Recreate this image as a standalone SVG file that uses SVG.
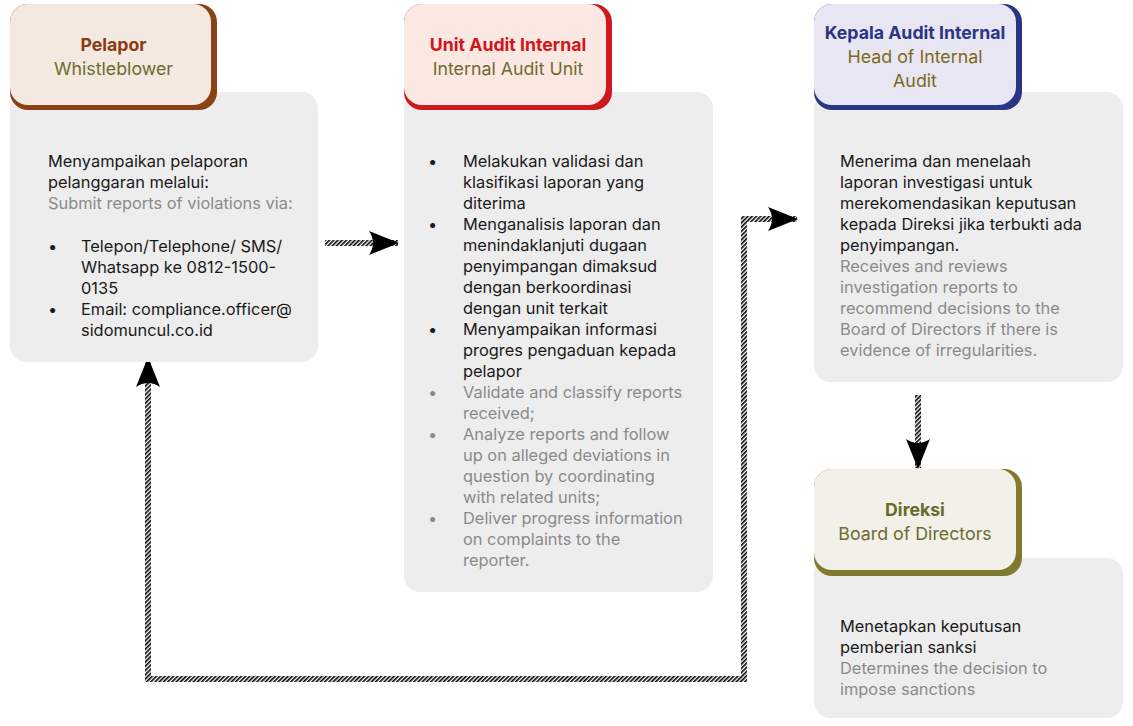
<svg xmlns="http://www.w3.org/2000/svg" width="1133" height="726" viewBox="0 0 1133 726">
<style>
text{font-family:Inter,"Noto Sans","Liberation Sans",sans-serif}
.body{fill:#EDEDED}
.t{font-size:16.4px;fill:#1a1a1a}
.g{fill:#8A8A8A}
.h1{font-size:17.7px;font-weight:700;text-anchor:middle}
.h2{font-size:17.8px;fill:#6E6B2E;text-anchor:middle}
.conn{fill:none;stroke:url(#hatch);stroke-width:6}
</style>
<defs>
<pattern id="hatch" patternUnits="userSpaceOnUse" width="3" height="3" patternTransform="rotate(45)">
<rect width="3" height="3" fill="#fff"/>
<rect width="1.6" height="3" fill="#000"/>
</pattern>
<marker id="arr" markerUnits="userSpaceOnUse" viewBox="0 0 30 24" markerWidth="30" markerHeight="24" refX="29" refY="12" orient="auto-start-reverse">
<path d="M0,0 L30,12 L0,24 Q8,12 0,0 Z" fill="#000"/>
</marker>
</defs>

<g id="connectors">
<path class="conn" d="M325,243 L398,243" marker-end="url(#arr)"/>
<path class="conn" d="M918,395 L918,468" marker-end="url(#arr)"/>
<path class="conn" d="M148,358 L148,679 L744,679 L744,219 L797,219" marker-start="url(#arr)" marker-end="url(#arr)"/>
</g>

<g id="pelapor">
<rect class="body" x="10" y="92" width="308" height="270" rx="16"/>
<rect x="10" y="4" width="207" height="106" rx="18" fill="#8B4016"/>
<rect x="10" y="4" width="201" height="101" rx="18" fill="#F3E9E0"/>
<text class="h1" x="113.5" y="51" fill="#8B3A12">Pelapor</text>
<text class="h2" x="113.5" y="75">Whistleblower</text>
<text class="t"><tspan x="48" y="166.7">Menyampaikan pelaporan</tspan><tspan x="48" y="187.7">pelanggaran melalui:</tspan><tspan x="48" y="208.7" class="g">Submit reports of violations via:</tspan></text>
<text class="t"><tspan x="48" y="251.7">•</tspan><tspan x="81" y="251.7">Telepon/Telephone/ SMS/</tspan><tspan x="81" y="272.7">Whatsapp ke 0812-1500-</tspan><tspan x="81" y="293.7">0135</tspan><tspan x="48" y="314.7">•</tspan><tspan x="81" y="314.7">Email: compliance.officer@</tspan><tspan x="81" y="335.7">sidomuncul.co.id</tspan></text>
</g>

<g id="unit-audit">
<rect class="body" x="404" y="92" width="309" height="500" rx="16"/>
<rect x="404" y="4" width="208" height="106" rx="18" fill="#CE1A1E"/>
<rect x="404" y="4" width="202" height="101" rx="18" fill="#FBE8E3"/>
<text class="h1" x="508" y="51" fill="#D0161B">Unit Audit Internal</text>
<text class="h2" x="508" y="75">Internal Audit Unit</text>
<text class="t"><tspan x="428" y="166.7">•</tspan><tspan x="463" y="166.7">Melakukan validasi dan</tspan><tspan x="463" y="187.7">klasifikasi laporan yang</tspan><tspan x="463" y="208.7">diterima</tspan><tspan x="428" y="229.7">•</tspan><tspan x="463" y="229.7">Menganalisis laporan dan</tspan><tspan x="463" y="250.7">menindaklanjuti dugaan</tspan><tspan x="463" y="271.7">penyimpangan dimaksud</tspan><tspan x="463" y="292.7">dengan berkoordinasi</tspan><tspan x="463" y="313.7">dengan unit terkait</tspan><tspan x="428" y="334.7">•</tspan><tspan x="463" y="334.7">Menyampaikan informasi</tspan><tspan x="463" y="355.7">progres pengaduan kepada</tspan><tspan x="463" y="376.7">pelapor</tspan></text>
<text class="t g"><tspan x="428" y="397.7">•</tspan><tspan x="463" y="397.7">Validate and classify reports</tspan><tspan x="463" y="418.7">received;</tspan><tspan x="428" y="439.7">•</tspan><tspan x="463" y="439.7">Analyze reports and follow</tspan><tspan x="463" y="460.7">up on alleged deviations in</tspan><tspan x="463" y="481.7">question by coordinating</tspan><tspan x="463" y="502.7">with related units;</tspan><tspan x="428" y="523.7">•</tspan><tspan x="463" y="523.7">Deliver progress information</tspan><tspan x="463" y="544.7">on complaints to the</tspan><tspan x="463" y="565.7">reporter.</tspan></text>
</g>

<g id="kepala-audit">
<rect class="body" x="814" y="92" width="309" height="290" rx="16"/>
<rect x="814" y="4" width="208" height="106" rx="18" fill="#2A3585"/>
<rect x="814" y="4" width="202" height="101" rx="18" fill="#E8E6F3"/>
<text class="h1" x="915" y="39" fill="#2B3585">Kepala Audit Internal</text>
<text class="h2" x="915" y="63" style="fill:#7A6A1A">Head of Internal</text>
<text class="h2" x="915" y="87" style="fill:#7A6A1A">Audit</text>
<text class="t"><tspan x="840" y="166.7">Menerima dan menelaah</tspan><tspan x="840" y="187.7">laporan investigasi untuk</tspan><tspan x="840" y="208.7">merekomendasikan keputusan</tspan><tspan x="840" y="229.7">kepada Direksi jika terbukti ada</tspan><tspan x="840" y="250.7">penyimpangan.</tspan></text>
<text class="t g"><tspan x="840" y="271.7">Receives and reviews</tspan><tspan x="840" y="292.7">investigation reports to</tspan><tspan x="840" y="313.7">recommend decisions to the</tspan><tspan x="840" y="334.7">Board of Directors if there is</tspan><tspan x="840" y="355.7">evidence of irregularities.</tspan></text>
</g>

<g id="direksi">
<rect class="body" x="814" y="558" width="309" height="160" rx="16"/>
<rect x="814" y="469" width="208" height="107" rx="18" fill="#807A30"/>
<rect x="814" y="469" width="202" height="101" rx="18" fill="#F2F0E9"/>
<text class="h1" x="915" y="516" fill="#6B6A2B">Direksi</text>
<text class="h2" x="915" y="540">Board of Directors</text>
<text class="t"><tspan x="840" y="631.7">Menetapkan keputusan</tspan><tspan x="840" y="652.7">pemberian sanksi</tspan></text>
<text class="t g"><tspan x="840" y="673.7">Determines the decision to</tspan><tspan x="840" y="694.7">impose sanctions</tspan></text>
</g>
</svg>
